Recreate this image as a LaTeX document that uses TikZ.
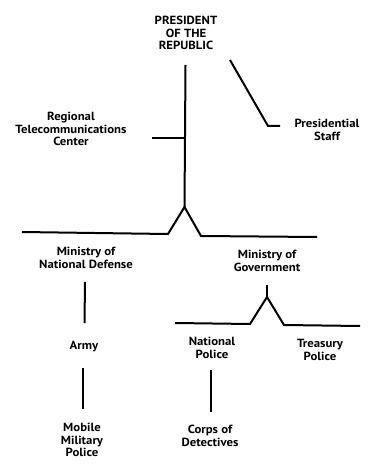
\documentclass[tikz,border=0pt]{standalone}
\usepackage{fontspec}
\setmainfont{PT Sans}[FakeStretch=1.08]
\begin{document}
\begin{tikzpicture}[x=1pt,y=-1pt,
  lbl/.style={align=center,font=\bfseries\fontsize{11.8}{12.3}\selectfont,inner sep=0pt},
  ln/.style={line width=2pt,line join=miter}]
\useasboundingbox[fill=white] (0,0) rectangle (369,465);
\node[lbl] (pres) at (186,33) {PRESIDENT\\OF THE\\REPUBLIC};
\node[lbl] (rtc) at (71,129) {Regional\\Telecommunications\\Center};
\node[lbl] (staff) at (327,130) {Presidential\\Staff};
\node[lbl] (mnd) at (86,258) {Ministry of\\National Defense};
\node[lbl] (mog) at (267,261) {Ministry of\\Government};
\node[lbl] (army) at (84,347) {Army};
\node[lbl] (np) at (212,348) {National\\Police};
\node[lbl] (tp) at (320,350) {Treasury\\Police};
\node[lbl] (mmp) at (82,440) {Mobile\\Military\\Police};
\node[lbl] (cod) at (210,436) {Corps of\\Detectives};
% top tree
\coordinate (ptop) at (185.5,65);
\coordinate (apex1) at (184.5,207);
\coordinate (lf1) at (168,234);
\coordinate (rf1) at (201,236);
\coordinate (lend1) at (22,232);
\coordinate (rend1) at (317,237);
\coordinate (rtcj) at (185.5,138);
\coordinate (rtce) at (152,138);
\draw[ln] (ptop) -- (apex1);
\draw[ln] (lend1) -- (lf1) -- (apex1) -- (rf1) -- (rend1);
\draw[ln] (rtce) -- (rtcj);
% staff
\coordinate (s1) at (230,60);
\coordinate (s2) at (268,126);
\coordinate (s3) at (280,126);
\draw[ln] (s1) -- (s2) -- (s3);
% defense
\coordinate (d1) at (85,282);
\coordinate (d2) at (84.5,323);
\draw[ln] (d1) -- (d2);
\coordinate (a1) at (83,368);
\coordinate (a2) at (83,409);
\draw[ln] (a1) -- (a2);
% government
\coordinate (g1) at (267,285);
\coordinate (apex2) at (267,297);
\coordinate (lf2) at (250,324);
\coordinate (rf2) at (284,325);
\coordinate (lend2) at (175,323);
\coordinate (rend2) at (360,326);
\draw[ln] (g1) -- (apex2);
\draw[ln] (lend2) -- (lf2) -- (apex2) -- (rf2) -- (rend2);
\coordinate (n1) at (211,370);
\coordinate (n2) at (211,412);
\draw[ln] (n1) -- (n2);
\end{tikzpicture}
\end{document}
